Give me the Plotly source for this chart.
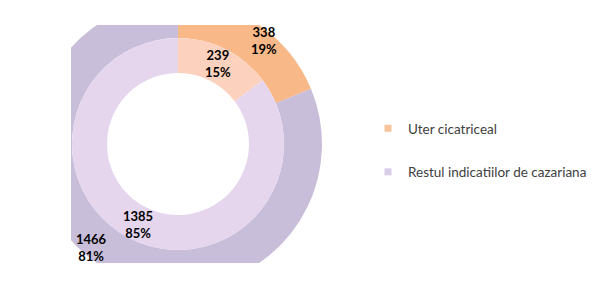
import math
import plotly.graph_objects as go

labels = ["Uter cicatriceal", "Restul indicatiilor de cazariana"]
outer_values = [338, 1466]
inner_values = [239, 1385]
outer_colors = ["#F8B888", "#C8BEDA"]
inner_colors = ["#FCD2BE", "#E5D6EE"]
legend_colors = ["#F9C49C", "#D9CDE8"]

W, H = 616, 288
cx, cy = 178, 144
r_out, r_mid, r_in = 144, 106, 71

def dom(r):
    return dict(x=[(cx - r) / W, (cx + r) / W], y=[(H - cy - r) / H, (H - cy + r) / H])

fig = go.Figure()
for vals, cols, ro, ri in [(outer_values, outer_colors, r_out, r_mid),
                           (inner_values, inner_colors, r_mid, r_in)]:
    fig.add_trace(go.Pie(
        labels=labels, values=vals, sort=False, direction="clockwise", rotation=0,
        hole=ri / ro, domain=dom(ro),
        marker=dict(colors=cols, line=dict(width=0)),
        textinfo="none", showlegend=False, hoverinfo="skip",
    ))

for i, (lab, col) in enumerate(zip(labels, legend_colors)):
    fig.add_trace(go.Scatter(
        x=[None], y=[None], mode="markers", name=lab, legendgroup=f"g{i}",
        marker=dict(symbol="square", size=7, color=col),
    ))

# data labels placed from slice angles (Excel-like placement)
annotations = []
for vals, rad, dang in [(outer_values, 135, 6), (inner_values, 90, 0)]:
    tot = sum(vals)
    start = 0.0
    for v in vals:
        frac = v / tot
        mid = start + frac * 360 / 2 + dang
        start += frac * 360
        a = math.radians(mid)
        px = cx + rad * math.sin(a)
        py = cy - rad * math.cos(a)
        annotations.append(dict(
            x=px / W, y=1 - py / H, xref="paper", yref="paper", showarrow=False,
            text=f"<b>{v}<br>{round(frac * 100)}%</b>",
            font=dict(family="Lato", size=13, color="#000000"),
            xanchor="center", yanchor="middle",
        ))

shapes = []
for x0, y0, x1, y1 in [(0, 0, 71, H), (0, 0, 340, 25), (0, 263, 340, H)]:
    shapes.append(dict(type="rect", xref="paper", yref="paper", layer="above",
                       x0=x0 / W, x1=x1 / W, y0=1 - y1 / H, y1=1 - y0 / H,
                       fillcolor="white", line=dict(width=0)))

fig.update_layout(
    width=W, height=H, margin=dict(l=0, r=0, t=0, b=0),
    paper_bgcolor="white", plot_bgcolor="white",
    xaxis=dict(visible=False), yaxis=dict(visible=False),
    shapes=shapes, annotations=annotations,
    legend=dict(x=368 / W, xanchor="left", y=1 - 113 / H, yanchor="top",
                tracegroupgap=23, font=dict(family="Lato", size=13.5, color="#404040"),
                bgcolor="rgba(0,0,0,0)"),
)
fig.write_html("out.html")
